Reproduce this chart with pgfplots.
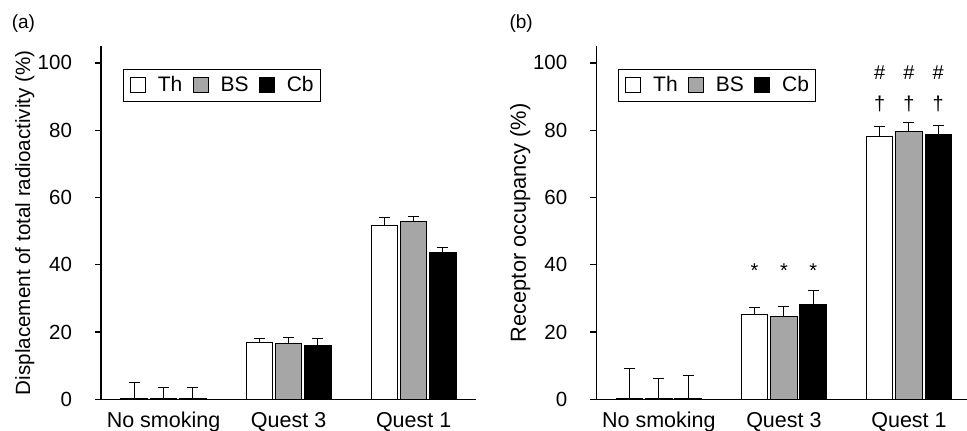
\documentclass[border=0pt]{standalone}
\usepackage{fontspec}
\setmainfont{Liberation Sans}
\usepackage{pgfplots}
\pgfplotsset{compat=1.18}
\definecolor{bsgray}{RGB}{166,166,166}
\tikzset{annot/.style={anchor=base, font=\fontsize{10}{12}\selectfont}}

\pgfplotsset{
  mybars/.style={
    scale only axis, width=187.6pt, height=176.6pt,
    xmin=-0.5, xmax=2.5, ymin=0, ymax=105,
    axis x line*=bottom, axis y line*=left,
    ytick={0,20,...,100},
    xtick={0,1,2}, xticklabels={No smoking, Quest 3, Quest 1},
    x tick style={draw=none},
    tick align=outside, major tick length=3pt,
    y tick style={line width=0.65pt, black},
    axis line style={line width=0.65pt, black},
    yticklabel style={font=\fontsize{10.25}{12}\selectfont, xshift=-8pt},
    xticklabel style={font=\fontsize{10.75}{12}\selectfont},
    /pgf/number format/assume math mode=true,
    every axis y label/.style={at={(axis description cs:-0.203,0.5)}, rotate=90, anchor=center, font=\fontsize{10.3}{12}\selectfont},
    ybar, bar width=13.25pt,
    legend columns=-1,
    legend style={at={(axis description cs:0.058,0.935)}, anchor=north west, draw=black, line width=0.6pt,
      font=\fontsize{10.5}{12}\selectfont, inner xsep=3.4pt, inner ysep=3.4pt,
      nodes={inner sep=0pt, anchor=base west},
      /tikz/every odd column/.append style={column sep=5.85pt},
      /tikz/every even column/.append style={column sep=5.25pt}},
    legend image code/.code={\draw[#1] (0pt,-0.3pt) rectangle (7.5pt,7.3pt);},
    error bars/y dir=plus, error bars/y explicit,
    error bars/error mark options={rotate=90, mark size=2.75pt, line width=0.5pt, black},
    error bars/error bar style={line width=0.5pt, black},
  },
  thstyle/.style={fill=white, draw=black, line width=0.5pt, bar shift=-14.65pt},
  bsstyle/.style={fill=bsgray, draw=black, line width=0.5pt, bar shift=0pt},
  cbstyle/.style={fill=black, draw=black, line width=0.5pt, bar shift=14.65pt},
}

\pgfplotstableread{
x y e
0 0.3 4.6
1 17.0 1.2
2 51.8 2.1
}\aTh
\pgfplotstableread{
x y e
0 0.3 3.3
1 16.5 1.9
2 52.8 1.5
}\aBS
\pgfplotstableread{
x y e
0 0.3 3.2
1 16.0 2.0
2 43.5 1.6
}\aCb
\pgfplotstableread{
x y e
0 0.3 9.0
1 25.3 1.9
2 78.1 3.0
}\bTh
\pgfplotstableread{
x y e
0 0.3 5.9
1 24.6 3.0
2 79.6 2.6
}\bBS
\pgfplotstableread{
x y e
0 0.3 6.7
1 28.3 3.9
2 78.6 2.9
}\bCb

\begin{document}
\begin{tikzpicture}
\path[use as bounding box] (0,0) rectangle (483.5pt,-215.5pt);
\node[font=\fontsize{9.5}{11}\selectfont] at (11.7pt,-11.7pt) {(a)};
\node[font=\fontsize{9.5}{11}\selectfont] at (260.6pt,-11.7pt) {(b)};

\begin{axis}[mybars, at={(50.5pt,-199.65pt)}, anchor=south west,
  ylabel={Displacement of total radioactivity (\%)}]
\addplot[thstyle] table[x=x,y=y,y error=e] {\aTh};
\addplot[bsstyle] table[x=x,y=y,y error=e] {\aBS};
\addplot[cbstyle] table[x=x,y=y,y error=e] {\aCb};
\legend{Th, BS, Cb}
\end{axis}

\begin{axis}[mybars, at={(298.15pt,-199.65pt)}, anchor=south west,
  ylabel={Receptor occupancy (\%)}, ylabel style={font=\fontsize{10.9}{12}\selectfont}]
\addplot[thstyle] table[x=x,y=y,y error=e] {\bTh};
\addplot[bsstyle] table[x=x,y=y,y error=e] {\bBS};
\addplot[cbstyle] table[x=x,y=y,y error=e] {\bCb};
\legend{Th, BS, Cb}
\node[annot] at (axis cs:0.7656,36.2) {*};
\node[annot] at (axis cs:1,36.2) {*};
\node[annot] at (axis cs:1.2344,36.2) {*};
\node[annot] at (axis cs:1.7656,85.9) {†};
\node[annot] at (axis cs:2,85.9) {†};
\node[annot] at (axis cs:2.2344,85.9) {†};
\node[annot] at (axis cs:1.7656,95.2) {\#};
\node[annot] at (axis cs:2,95.2) {\#};
\node[annot] at (axis cs:2.2344,95.2) {\#};
\end{axis}
\end{tikzpicture}
\end{document}
